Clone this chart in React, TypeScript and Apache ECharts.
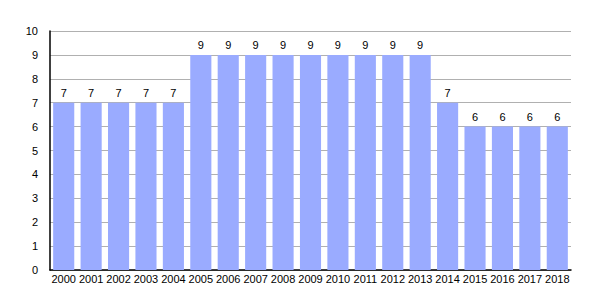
import React, { useEffect, useRef } from "react";
import * as echarts from "echarts";

const categories = ["2000","2001","2002","2003","2004","2005","2006","2007","2008","2009","2010","2011","2012","2013","2014","2015","2016","2017","2018"];
const values = [7,7,7,7,7,9,9,9,9,9,9,9,9,9,7,6,6,6,6];

export default function App() {
  const ref = useRef<HTMLDivElement>(null);
  useEffect(() => {
    const chart = echarts.init(ref.current!, null, { renderer: "svg" });
    chart.setOption({
      animation: false,
      textStyle: { fontFamily: "Liberation Sans, Arial, sans-serif" },
      grid: { left: 50, right: 29, top: 31, bottom: 30 },
      xAxis: {
        type: "category",
        data: categories,
        axisLine: { lineStyle: { color: "#000", width: 1.5 } },
        axisTick: { show: false },
        axisLabel: { color: "#000", fontSize: 11, margin: 3, interval: 0 },
      },
      yAxis: {
        type: "value",
        min: 0,
        max: 10,
        interval: 1,
        axisLine: { show: true, lineStyle: { color: "#000", width: 1.5 } },
        axisTick: { show: false },
        axisLabel: { color: "#000", fontSize: 11, margin: 12 },
        splitLine: { lineStyle: { color: "#b0b0b0", width: 1 } },
      },
      series: [
        {
          type: "bar",
          data: values,
          barCategoryGap: "23%",
          itemStyle: { color: "#9aabff" },
          label: { show: true, position: "top", color: "#000", fontSize: 11, distance: 4 },
        },
      ],
    });
    return () => chart.dispose();
  }, []);
  return <div ref={ref} style={{ width: 600, height: 300, position: "absolute", left: 0, top: 0 }} />;
}
